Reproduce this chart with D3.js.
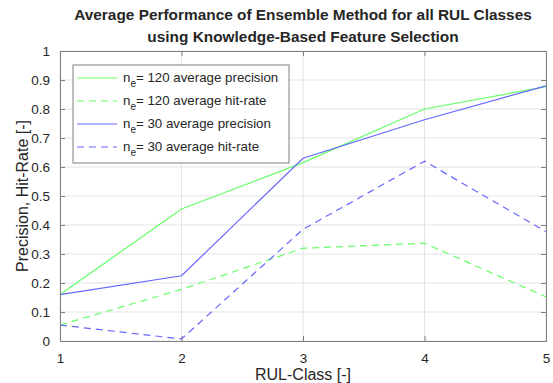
<!DOCTYPE html>
<html>
<head>
<meta charset="utf-8">
<script src="https://cdn.jsdelivr.net/npm/d3@7"></script>
<style>
	body { margin: 0; background: #fff; }
	text { font-family: "Liberation Sans", Arial, sans-serif; fill: #262626; }
</style>
</head>
<body>
<div class="svg-container"></div>
<script>
(function () {

	"use strict";

	// data
	var classes = [1, 2, 3, 4, 5];
	var prec_120 = [0.16, 0.455, 0.615, 0.80, 0.877];
	var hit_120 = [0.055, 0.178, 0.32, 0.337, 0.152];
	var prec_30 = [0.16, 0.225, 0.63, 0.763, 0.88];
	var hit_30 = [0.055, 0.007, 0.385, 0.62, 0.377];
	var y_ticks = [0, 0.1, 0.2, 0.3, 0.4, 0.5, 0.6, 0.7, 0.8, 0.9, 1];
	var series_names = ["120 average precision", "120 average hit-rate", "30 average precision", "30 average hit-rate"];

	var green = "#66ff66",
		blue = "#6666ff";

	var series = [
		{ name: series_names[0], values: prec_120, color: green, dash: null },
		{ name: series_names[1], values: hit_120, color: green, dash: "7,5" },
		{ name: series_names[2], values: prec_30, color: blue, dash: null },
		{ name: series_names[3], values: hit_30, color: blue, dash: "7,5" }
	];

	var container_width = 553,
		container_height = 383,
		margin = { "top": 51, "right": 7, "bottom": 42, "left": 60 };

	var width = container_width - margin.left - margin.right,
		height = container_height - margin.top - margin.bottom;

	var svg = d3.select(".svg-container").append("svg")
		.attr("width", container_width)
		.attr("height", container_height);

	var g = svg.append("g")
		.attr("transform", "translate(" + margin.left + "," + margin.top + ")");

	var x = d3.scaleLinear().domain([1, 5]).range([0, width]);
	var y = d3.scaleLinear().domain([0, 1]).range([height, 0]);

	// grid
	g.selectAll(".gx").data(classes).enter().append("line")
		.attr("x1", function (d) { return x(d); })
		.attr("x2", function (d) { return x(d); })
		.attr("y1", 0).attr("y2", height)
		.attr("stroke", "#e3e3e3");
	g.selectAll(".gy").data(y_ticks).enter().append("line")
		.attr("x1", 0).attr("x2", width)
		.attr("y1", function (d) { return y(d); })
		.attr("y2", function (d) { return y(d); })
		.attr("stroke", "#e3e3e3");

	// lines
	var line = d3.line()
		.x(function (d, i) { return x(classes[i]); })
		.y(function (d) { return y(d); });

	g.selectAll(".series").data(series).enter().append("path")
		.attr("d", function (d) { return line(d.values); })
		.attr("fill", "none")
		.attr("stroke", function (d) { return d.color; })
		.attr("stroke-width", 1.2)
		.attr("stroke-dasharray", function (d) { return d.dash; });

	// axes (ticks inside, box around)
	var xAxis = d3.axisBottom(x).tickValues(classes).tickSize(-5).tickPadding(10).tickFormat(d3.format("d"));
	var yAxis = d3.axisLeft(y).tickValues(y_ticks).tickSize(-5).tickPadding(10).tickFormat(function (d) { return d3.format("")(d); });

	var gx = g.append("g").attr("transform", "translate(0," + height + ")").call(xAxis);
	var gy = g.append("g").call(yAxis);
	g.append("g").attr("transform", "translate(0,0)")
		.call(d3.axisTop(x).tickValues(classes).tickSize(-5).tickFormat(""));
	g.append("g").attr("transform", "translate(" + width + ",0)")
		.call(d3.axisRight(y).tickValues(y_ticks).tickSize(-5).tickFormat(""));

	g.selectAll(".domain").attr("stroke", "#808080");
	g.selectAll(".tick line").attr("stroke", "#808080");
	g.selectAll(".tick text").style("font-size", "13.5px").attr("fill", "#262626")
		.style("font-family", "'Liberation Sans', Arial, sans-serif");
	gx.selectAll(".tick text").attr("dy", "0.9em");

	// title
	var title = svg.append("text")
		.attr("x", margin.left + width / 2)
		.attr("text-anchor", "middle")
		.style("font-size", "15.4px")
		.style("font-weight", "bold")
		.attr("fill", "#000");
	title.append("tspan").attr("x", margin.left + width / 2).attr("y", 20)
		.text("Average Performance of Ensemble Method for all RUL Classes");
	title.append("tspan").attr("x", margin.left + width / 2).attr("y", 42)
		.text("using Knowledge-Based Feature Selection");

	// axis labels
	svg.append("text")
		.attr("x", margin.left + width / 2)
		.attr("y", 380)
		.attr("text-anchor", "middle")
		.style("font-size", "16px")
		.text("RUL-Class [-]");

	svg.append("text")
		.attr("transform", "translate(28," + (margin.top + height / 2) + ") rotate(-90)")
		.attr("text-anchor", "middle")
		.style("font-size", "16px")
		.text("Precision, Hit-Rate [-]");

	// legend
	var legend = g.append("g").attr("transform", "translate(13,14)");
	legend.append("rect")
		.attr("width", 216).attr("height", 98)
		.attr("fill", "#fff").attr("stroke", "#808080");

	var items = legend.selectAll(".item").data(series).enter().append("g")
		.attr("transform", function (d, i) { return "translate(0," + (13 + i * 23) + ")"; });
	items.append("line")
		.attr("x1", 4).attr("x2", 44)
		.attr("stroke", function (d) { return d.color; })
		.attr("stroke-width", 1.2)
		.attr("stroke-dasharray", function (d) { return d.dash; });
	var label = items.append("text")
		.attr("x", 50).attr("y", 4)
		.style("font-size", "13.3px");
	label.append("tspan").text("n");
	label.append("tspan").attr("dy", 5).style("font-size", "10px").text("e");
	label.append("tspan").attr("dy", -5).text(function (d) { return "= " + d.name; });

})();
</script>
</body>
</html>
